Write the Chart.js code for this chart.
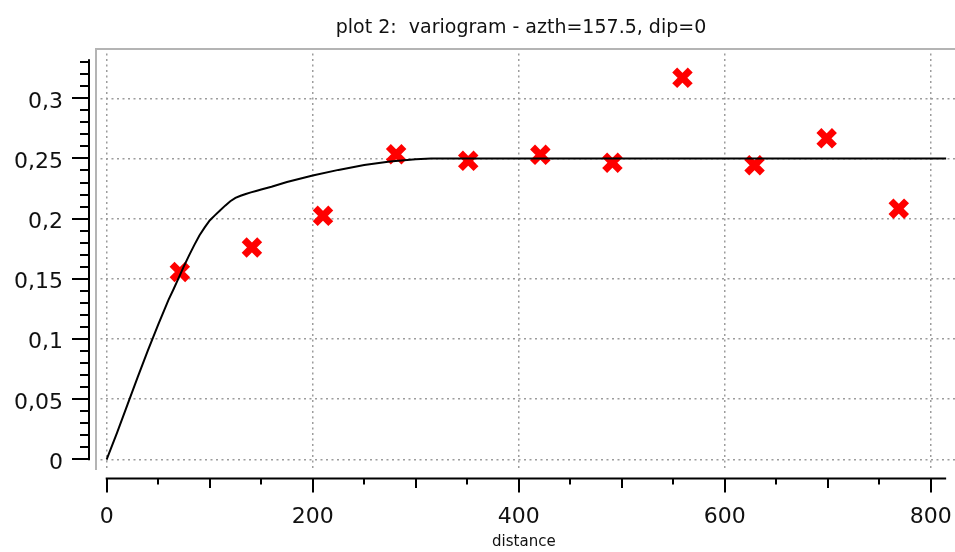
<!DOCTYPE html>
<html>
<head>
<meta charset="utf-8">
<title>plot 2: variogram - azth=157.5, dip=0</title>
<script src="https://cdn.jsdelivr.net/npm/chart.js@4/dist/chart.umd.min.js"></script>
<style>
  html, body { margin: 0; padding: 0; background: #ffffff; }
  #wrap { position: relative; width: 955px; height: 552px; }
</style>
</head>
<body>
<div id="wrap"><canvas id="chart" width="955" height="552"></canvas></div>
<script>
// Experimental variogram: lag distance and semivariance
const lagDistance = [71, 141, 210, 281, 351, 421, 491, 559, 629, 699, 769];
const semivariance = [0.1556, 0.176, 0.2023, 0.2535, 0.248, 0.253, 0.2464, 0.317, 0.2444, 0.2667, 0.2083];

// Fitted model curve (distance, gamma)
const modelDistance = [0, 10, 20, 30, 40, 50, 60, 65, 70, 75, 80, 85, 90, 95, 100, 105, 110, 115, 120, 125, 130, 135, 140, 145, 150, 160, 175, 200, 225, 250, 275, 300, 315, 815];
const modelGamma = [0, 0.022, 0.045, 0.068, 0.0905, 0.112, 0.1325, 0.1415, 0.151, 0.1605, 0.1695, 0.178, 0.186, 0.1925, 0.1985, 0.2027, 0.2067, 0.2108, 0.2145, 0.2172, 0.219, 0.2205, 0.2218, 0.223, 0.2242, 0.2265, 0.2305, 0.2358, 0.2405, 0.2445, 0.2474, 0.2494, 0.25, 0.25];

// Axis ticks and labels
const xMajorTicks = [0, 200, 400, 600, 800];
const xTickLabels = ['0', '200', '400', '600', '800'];
const yMajorTicks = [0, 0.05, 0.1, 0.15, 0.2, 0.25, 0.3];
const yTickLabels = ['0', '0,05', '0,1', '0,15', '0,2', '0,25', '0,3'];

const titleText = 'plot 2:  variogram - azth=157.5, dip=0';
const xAxisTitle = 'distance';

// Scale ranges: the canvas shows a small margin around the axis ranges
const xView = { min: -11.36, max: 823.6 };
const yView = { min: -0.0089, max: 0.3418 };
const xAxisEnd = 815;
const yAxisEnd = 0.3325;
const xMinorStep = 50;
const yMinorStep = 0.01;

const modelPoints = modelDistance.map((d, i) => ({ x: d, y: modelGamma[i] }));
const expPoints = lagDistance.map((d, i) => ({ x: d, y: semivariance[i] }));

const gridStyle = {
  color: '#9c9c9c',
  lineWidth: 1.5,
  drawTicks: false
};

// Plot frame, axes with major/minor ticks, title and axis caption
const qwtAxes = {
  id: 'qwtAxes',
  beforeDatasetsDraw(chart) {
    const { ctx, chartArea } = chart;
    ctx.save();
    ctx.strokeStyle = '#b4b4b4';
    ctx.lineWidth = 2;
    ctx.beginPath();
    ctx.moveTo(chartArea.left + 1, chartArea.bottom);
    ctx.lineTo(chartArea.left + 1, chartArea.top + 1);
    ctx.lineTo(chartArea.right, chartArea.top + 1);
    ctx.stroke();
    ctx.restore();
  },
  afterDraw(chart) {
    const { ctx, chartArea } = chart;
    const xs = chart.scales.x;
    const ys = chart.scales.y;
    ctx.save();
    ctx.strokeStyle = '#000000';
    ctx.fillStyle = '#111111';
    ctx.lineWidth = 2;

    // x axis below the canvas
    const xAxisY = chartArea.bottom + 8.5;
    ctx.beginPath();
    ctx.moveTo(xs.getPixelForValue(0) - 1, xAxisY);
    ctx.lineTo(xs.getPixelForValue(xAxisEnd), xAxisY);
    ctx.stroke();
    for (let v = 0; v <= xAxisEnd; v += xMinorStep) {
      const px = Math.round(xs.getPixelForValue(v));
      let len = 6;
      if (v % 200 === 0) len = 14;
      else if (v % 100 === 0) len = 9.5;
      ctx.beginPath();
      ctx.moveTo(px, xAxisY);
      ctx.lineTo(px, xAxisY + len);
      ctx.stroke();
    }
    ctx.font = "22px 'DejaVu Sans'";
    ctx.textAlign = 'center';
    ctx.textBaseline = 'alphabetic';
    xMajorTicks.forEach((v, i) => {
      ctx.fillText(xTickLabels[i], xs.getPixelForValue(v), xAxisY + 44);
    });

    // y axis left of the canvas
    const yAxisX = chartArea.left - 6;
    ctx.beginPath();
    ctx.moveTo(yAxisX, ys.getPixelForValue(0) + 1);
    ctx.lineTo(yAxisX, ys.getPixelForValue(yAxisEnd));
    ctx.stroke();
    const nMinor = Math.floor(yAxisEnd / yMinorStep + 1e-6);
    for (let k = 0; k <= nMinor; k++) {
      const v = k * yMinorStep;
      const py = Math.round(ys.getPixelForValue(v));
      const len = (k % 5 === 0) ? 17 : 9;
      ctx.beginPath();
      ctx.moveTo(yAxisX, py);
      ctx.lineTo(yAxisX - len, py);
      ctx.stroke();
    }
    ctx.font = "22px 'DejaVu Sans'";
    ctx.textAlign = 'right';
    yMajorTicks.forEach((v, i) => {
      ctx.fillText(yTickLabels[i], yAxisX - 26, ys.getPixelForValue(v) + 9.5);
    });

    // title and axis caption
    ctx.textAlign = 'center';
    ctx.font = "19px 'DejaVu Sans'";
    ctx.fillText(titleText, (chartArea.left + chartArea.right) / 2 - 4, 33);
    ctx.font = "15px 'DejaVu Sans'";
    ctx.fillText(xAxisTitle, xs.getPixelForValue(405), 546);
    ctx.restore();
  }
};

new Chart(document.getElementById('chart'), {
  type: 'scatter',
  data: {
    datasets: [
      {
        label: 'model',
        data: modelPoints,
        showLine: true,
        borderColor: '#000000',
        borderWidth: 2,
        pointRadius: 0,
        tension: 0,
        fill: false
      },
      {
        label: 'experimental',
        data: expPoints,
        pointStyle: 'crossRot',
        pointRadius: 11,
        pointBorderWidth: 7,
        borderColor: '#ff0000',
        backgroundColor: '#ff0000',
        showLine: false
      }
    ]
  },
  plugins: [qwtAxes],
  options: {
    responsive: false,
    animation: false,
    layout: { autoPadding: false, padding: { left: 95, top: 48, right: 0, bottom: 82 } },
    plugins: {
      legend: { display: false },
      tooltip: { enabled: false },
      title: { display: false }
    },
    scales: {
      x: {
        type: 'linear',
        min: xView.min,
        max: xView.max,
        afterBuildTicks: (s) => { s.ticks = xMajorTicks.map(v => ({ value: v })); },
        ticks: { display: false },
        grid: gridStyle,
        border: { display: false, dash: [2, 3.5] }
      },
      y: {
        type: 'linear',
        min: yView.min,
        max: yView.max,
        afterBuildTicks: (s) => { s.ticks = yMajorTicks.map(v => ({ value: v })); },
        ticks: { display: false },
        grid: gridStyle,
        border: { display: false, dash: [2, 3.5] }
      }
    }
  }
});
</script>
</body>
</html>
